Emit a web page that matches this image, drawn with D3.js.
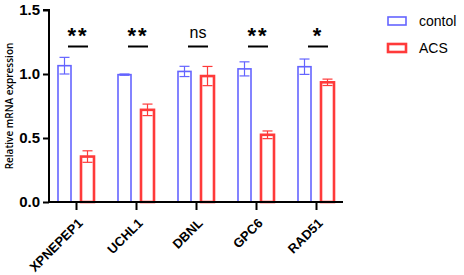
<!DOCTYPE html>
<html>
<head>
<meta charset="utf-8">
<script src="https://cdn.jsdelivr.net/npm/d3@7"></script>
<style>
  body { margin: 0; background: #fff; }
  svg { display: block; font-family: Arial, "Liberation Sans", sans-serif; }
</style>
</head>
<body>
<svg id="chart" width="464" height="275"></svg>
<script>
// データ
const genes = ["XPNEPEP1", "UCHL1", "DBNL", "GPC6", "RAD51"];
const controlMean = [1.065, 0.995, 1.02, 1.04, 1.057];
const controlErr = [0.065, 0.005, 0.04, 0.055, 0.06];
const acsMean = [0.355, 0.72, 0.984, 0.525, 0.935];
const acsErr = [0.045, 0.045, 0.075, 0.03, 0.025];
const signif = ["**", "**", "ns", "**", "*"];
const yTicks = [0.0, 0.5, 1.0, 1.5];
const seriesNames = ["contol", "ACS"];

const svg = d3.select("#chart");
const blue = "#6464ff", red = "#ff3a3a";

// スケール
const x = d3.scalePoint().domain(genes).range([49, 343]).padding(0.45);
const y = d3.scaleLinear().domain([0, 1.5]).range([202, 10]);

const series = [
  { name: seriesNames[0], mean: controlMean, err: controlErr, color: blue, sw: 1.6, dx: -11.5 },
  { name: seriesNames[1], mean: acsMean, err: acsErr, color: red, sw: 2.6, dx: 11.5 }
];
const barW = 13;

series.forEach(s => {
  const g = svg.append("g");
  genes.forEach((gene, i) => {
    const cx = x(gene) + s.dx;
    g.append("rect")
      .attr("x", cx - barW / 2).attr("y", y(s.mean[i]))
      .attr("width", barW).attr("height", y(0) - y(s.mean[i]))
      .attr("fill", "none").attr("stroke", s.color).attr("stroke-width", s.sw);
    // エラーバー
    const top = y(s.mean[i] + s.err[i]), bot = y(s.mean[i] - s.err[i]);
    g.append("line").attr("x1", cx).attr("x2", cx).attr("y1", top).attr("y2", bot)
      .attr("stroke", s.color).attr("stroke-width", 1.2);
    [top, bot].forEach(yy => {
      g.append("line").attr("x1", cx - 5).attr("x2", cx + 5).attr("y1", yy).attr("y2", yy)
        .attr("stroke", s.color).attr("stroke-width", 1.2);
    });
  });
});

// 軸
const yAxis = svg.append("g").attr("transform", "translate(49,0)")
  .call(d3.axisLeft(y).tickValues(yTicks).tickFormat(d3.format(".1f")).tickSize(6).tickPadding(3));
const xAxis = svg.append("g").attr("transform", `translate(0,${y(0)})`)
  .call(d3.axisBottom(x).tickSize(8).tickSizeOuter(0));
[yAxis, xAxis].forEach(a => {
  a.select(".domain").attr("stroke", "#000").attr("stroke-width", 2);
  a.selectAll(".tick line").attr("stroke", "#000").attr("stroke-width", 2);
});
yAxis.select(".domain").attr("d", `M-6,${y(1.5)}H0V${y(0)}`);
xAxis.select(".domain").attr("d", "M49,0H343");
yAxis.selectAll("text").attr("font-size", 15).attr("font-weight", "bold").attr("fill", "#000")
  .attr("font-family", "Arial, 'Liberation Sans', sans-serif");
xAxis.selectAll("text")
  .attr("font-size", 13).attr("font-weight", "bold").attr("fill", "#000")
  .attr("font-family", "Arial, 'Liberation Sans', sans-serif")
  .attr("text-anchor", "end").attr("dy", 0)
  .attr("transform", "translate(7,22) rotate(-45)").attr("y", 0).attr("x", 0);

// 軸タイトル
svg.append("text")
  .attr("transform", "rotate(-90)")
  .attr("x", -(y(0) + y(1.5)) / 2).attr("y", 13)
  .attr("text-anchor", "middle")
  .attr("font-size", 10).attr("font-weight", 600)
  .attr("font-family", "'Open Sans', sans-serif")
  .text("Relative mRNA expression");

// 有意差
genes.forEach((gene, i) => {
  const cx = x(gene) + 2;
  svg.append("line").attr("x1", cx - 10).attr("x2", cx + 10)
    .attr("y1", 46.5).attr("y2", 46.5).attr("stroke", "#000").attr("stroke-width", 2);
  const ns = signif[i] === "ns";
  svg.append("text").attr("x", cx).attr("y", ns ? 38 : 43)
    .attr("text-anchor", "middle")
    .attr("font-size", ns ? 16 : 22).attr("font-weight", ns ? "normal" : "bold")
    .attr("letter-spacing", ns ? 0 : 2)
    .text(signif[i]);
});

// 凡例
series.forEach((s, i) => {
  const yy = 17 + i * 27;
  svg.append("rect").attr("x", 388).attr("y", yy).attr("width", 18).attr("height", 8)
    .attr("fill", "none").attr("stroke", s.color).attr("stroke-width", s.sw);
  svg.append("text").attr("x", 419).attr("y", yy + 9).attr("font-size", 14).text(s.name);
});
</script>
</body>
</html>
